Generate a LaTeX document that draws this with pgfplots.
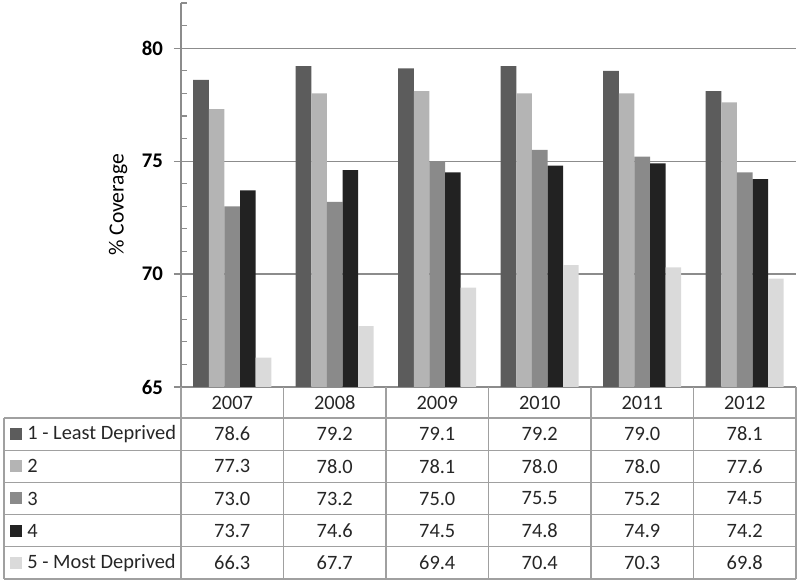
\documentclass[border=0pt]{standalone}
\usepackage{pgfplots}
\pgfplotsset{compat=1.18}
\usepackage{pgfplotstable}
\usepackage{fontspec}
\setmainfont{Carlito}
\definecolor{cA}{HTML}{5C5C5C}
\definecolor{cB}{HTML}{B4B4B4}
\definecolor{cC}{HTML}{8A8A8A}
\definecolor{cD}{HTML}{222222}
\definecolor{cE}{HTML}{DADADA}
\definecolor{gridc}{HTML}{8C8C8C}
\definecolor{tabc}{HTML}{A0A0A0}
\pgfplotstableread{
x a b c d e
0 78.6 77.3 73.0 73.7 66.3
1 79.2 78.0 73.2 74.6 67.7
2 79.1 78.1 75.0 74.5 69.4
3 79.2 78.0 75.5 74.8 70.4
4 79.0 78.0 75.2 74.9 70.3
5 78.1 77.6 74.5 74.2 69.8
}\data
\begin{document}
\begin{tikzpicture}[font=\fontsize{10.2}{12}\selectfont]
\useasboundingbox (0,0) rectangle (400pt,291.5pt);
\begin{axis}[
  at={(90.5pt,98pt)}, anchor=south west,
  scale only axis, width=307.5pt, height=192pt,
  ybar=0pt, bar width=7.8pt,
  xmin=-0.5, xmax=5.5, ymin=65, ymax=82,
  xtick=\empty,
  ytick={65,70,75,80},
  minor ytick={66,67,68,69,71,72,73,74,76,77,78,79,81,82},
  ymajorgrids, major grid style={gridc, line width=0.6pt},
  axis x line*=bottom, axis y line*=left,
  axis line style={gridc, line width=0.6pt, -},
  ytick pos=left,
  tick align=outside,
  major tick length=3.5pt, minor tick length=3pt,
  minor tick style={gridc, line width=0.6pt, xshift=3pt},
  major tick style={gridc, line width=0.6pt},
  yticklabel style={font=\fontsize{10.4}{12}\selectfont\bfseries, xshift=-2pt},
  /pgf/number format/assume math mode=true,
  every axis y label/.style={at={(axis description cs:-0.1024,0.474)}, rotate=90, anchor=center, font=\fontsize{10.8}{12}\selectfont},
  ylabel={\% Coverage},
  clip=false,
]
\addplot[fill=cA, draw=none] table[x=x,y=a]{\data};
\addplot[fill=cB, draw=none] table[x=x,y=b]{\data};
\addplot[fill=cC, draw=none] table[x=x,y=c]{\data};
\addplot[fill=cD, draw=none] table[x=x,y=d]{\data};
\addplot[fill=cE, draw=none] table[x=x,y=e]{\data};
\end{axis}
% data table
\begin{scope}[tabc, line width=0.6pt]
\foreach \k in {0,...,6} {
  \draw ({90.5pt+\k*51.25pt},98pt) -- ({90.5pt+\k*51.25pt},2pt);
}
\draw (2pt,82.5pt) -- (2pt,2pt);
\foreach \r in {0,...,5} {
  \draw (2pt,{82.5pt-\r*16.1pt}) -- (398pt,{82.5pt-\r*16.1pt});
}
\end{scope}
\foreach \yr [count=\i from 0] in {2007,2008,2009,2010,2011,2012} {
  \node[text=black!85] at ({90.5pt+(\i+0.5)*51.25pt},90.25pt) {\yr};
}
\foreach \lab/\col [count=\r from 0] in {1 - Least Deprived/cA, 2/cB, 3/cC, 4/cD, 5 - Most Deprived/cE} {
  \fill[\col] (5pt,{82.5pt-(\r+0.5)*16.1pt-3pt}) rectangle ++(6pt,6pt);
  \node[anchor=west, inner sep=0pt, text=black!85] at (13.5pt,{82.5pt-(\r+0.5)*16.1pt}) {\lab};
}
\foreach \vals [count=\r from 0] in {{78.6,79.2,79.1,79.2,79.0,78.1},{77.3,78.0,78.1,78.0,78.0,77.6},{73.0,73.2,75.0,75.5,75.2,74.5},{73.7,74.6,74.5,74.8,74.9,74.2},{66.3,67.7,69.4,70.4,70.3,69.8}} {
  \foreach \v [count=\i from 0] in \vals {
    \node[text=black!85] at ({90.5pt+(\i+0.5)*51.25pt},{82.5pt-(\r+0.5)*16.1pt}) {\v};
  }
}
\end{tikzpicture}
\end{document}
